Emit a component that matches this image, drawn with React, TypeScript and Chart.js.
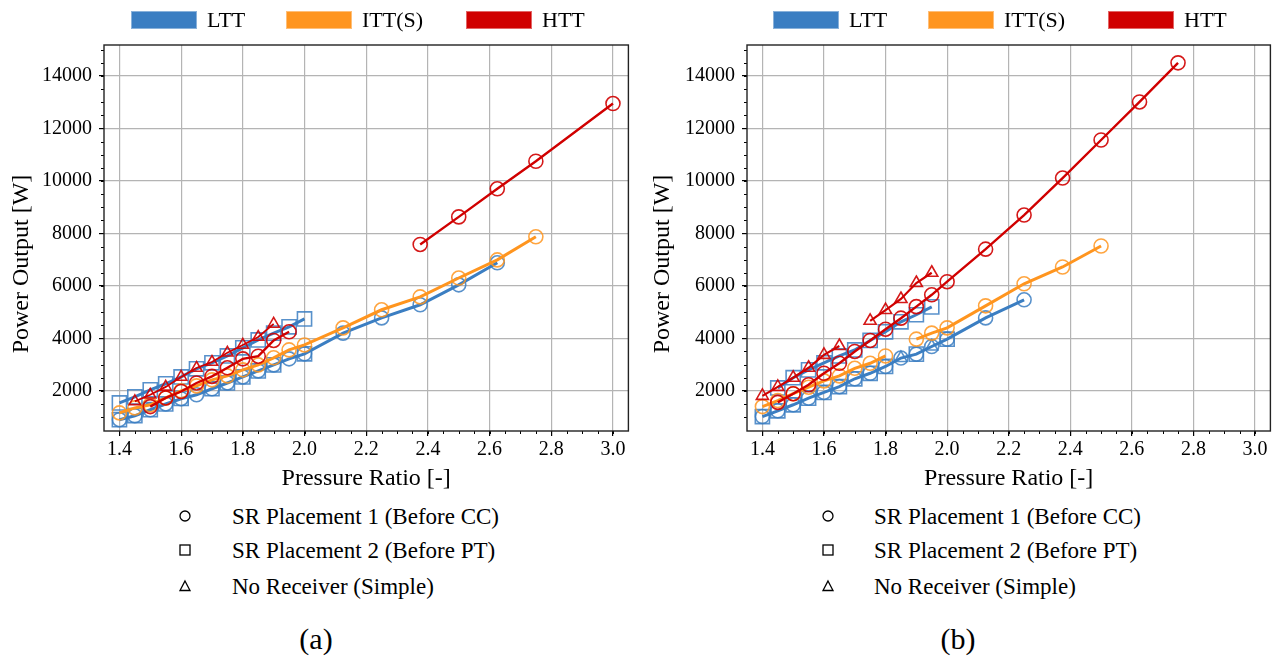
import React, { useEffect, useRef } from "react";
import { Chart, registerables } from "chart.js";

Chart.register(...registerables);

// ---------- data ----------
const X_TICKS = [1.4, 1.6, 1.8, 2.0, 2.2, 2.4, 2.6, 2.8, 3.0];
const Y_TICKS = [2000, 4000, 6000, 8000, 10000, 12000, 14000];
const X_TITLE = "Pressure Ratio [-]";
const Y_TITLE = "Power Output [W]";
const SERIES_NAMES = ["LTT", "ITT(S)", "HTT"];
const MARKER_NAMES = ["SR Placement 1 (Before CC)", "SR Placement 2 (Before PT)", "No Receiver (Simple)"];
const CAPTIONS = ["(a)", "(b)"];

// (a)
const A_HTT_CIRC_X = [1.5, 1.55, 1.6, 1.65, 1.7, 1.75, 1.8, 1.85, 1.9, 1.95, 2.2, 2.375, 2.5, 2.625, 2.75, 3.0];
const A_HTT_CIRC_Y = [1400, 1730, 1975, 2300, 2550, 2880, 3220, 3320, 3920, 4250, null, 7580, 8630, 9700, 10750, 12950];
const A_HTT_TRI_X = [1.45, 1.5, 1.55, 1.6, 1.65, 1.7, 1.75, 1.8, 1.85, 1.9];
const A_HTT_TRI_Y = [1600, 1850, 2150, 2530, 2870, 3100, 3450, 3750, 4050, 4550];
const A_ITT_CIRC_X = [1.4, 1.45, 1.5, 1.55, 1.6, 1.65, 1.7, 1.75, 1.8, 1.85, 1.9, 1.95, 2.0, 2.125, 2.25, 2.375, 2.5, 2.625, 2.75];
const A_ITT_CIRC_Y = [1160, 1350, 1470, 1730, 2000, 2190, 2420, 2570, 2800, 2990, 3260, 3560, 3750, 4400, 5090, 5580, 6300, 6990, 7870];
const A_LTT_SQ_X = [1.4, 1.45, 1.5, 1.55, 1.6, 1.65, 1.7, 1.75, 1.8, 1.85, 1.9, 1.95, 2.0];
const A_LTT_SQ_Y = [1540, 1770, 2040, 2270, 2530, 2840, 3070, 3330, 3640, 3940, 4200, 4440, 4740];
const A_LTT_CIRC_X = [1.4, 1.45, 1.5, 1.55, 1.6, 1.65, 1.7, 1.75, 1.8, 1.85, 1.9, 1.95, 2.0, 2.125, 2.25, 2.375, 2.5, 2.625];
const A_LTT_CIRC_Y = [900, 1050, 1280, 1500, 1700, 1850, 2080, 2300, 2530, 2760, 2990, 3220, 3410, 4200, 4780, 5280, 6040, 6880];
const A_LTT_LOWSQ_X = [1.4, 1.45, 1.5, 1.55, 1.6, 1.7, 1.75, 1.8, 1.85, 1.9, 2.0];
const A_LTT_LOWSQ_Y = [900, 1060, 1280, 1500, 1710, 2080, 2300, 2530, 2760, 2990, 3410];

// (b)
const B_HTT_CIRC_X = [1.45, 1.5, 1.55, 1.6, 1.65, 1.7, 1.75, 1.8, 1.85, 1.9, 1.95, 2.0, 2.125, 2.25, 2.375, 2.5, 2.625, 2.75];
const B_HTT_CIRC_Y = [1560, 1890, 2230, 2670, 3050, 3500, 3920, 4350, 4770, 5210, 5660, 6160, 7400, 8700, 10110, 11560, 13010, 14500];
const B_HTT_TRI_X = [1.4, 1.45, 1.5, 1.55, 1.6, 1.65, 1.7, 1.75, 1.8, 1.85, 1.9, 1.95];
const B_HTT_TRI_Y = [1810, 2150, 2500, 2880, 3370, 3710, null, 4670, 5080, 5500, 6110, 6500];
const B_ITT_CIRC_X = [1.4, 1.45, 1.5, 1.55, 1.6, 1.65, 1.7, 1.75, 1.8, 1.85, 1.9, 1.95, 2.0, 2.125, 2.25, 2.375, 2.5];
const B_ITT_CIRC_Y = [1400, 1630, 1890, 2140, 2380, 2570, 2860, 3050, 3330, null, 3970, 4200, 4400, 5240, 6080, 6720, 7520];
const B_LTT_SQ_X = [1.45, 1.5, 1.55, 1.6, 1.65, 1.7, 1.75, 1.8, 1.85, 1.9, 1.95];
const B_LTT_SQ_Y = [2110, 2500, 2800, 3070, 3330, 3560, 3920, 4250, 4630, 4900, 5200];
const B_LTT_CIRC_X = [1.4, 1.45, 1.5, 1.55, 1.6, 1.65, 1.7, 1.75, 1.8, 1.85, 1.9, 1.95, 2.0, 2.125, 2.25];
const B_LTT_CIRC_Y = [1020, 1240, 1470, 1720, 1940, 2160, 2460, 2670, 2930, 3250, 3400, 3690, 3970, 4780, 5470];
const B_LTT_LOWSQ_X = [1.4, 1.45, 1.5, 1.55, 1.6, 1.65, 1.7, 1.75, 1.8, 1.9, 2.0];
const B_LTT_LOWSQ_Y = [1020, 1240, 1470, 1720, 1940, 2160, 2460, 2670, 2930, 3400, 3970];
const B_LTT_TRI_X = [1.85, 1.95];
const B_LTT_TRI_Y = [3250, 3690];

// ---------- styles ----------
const BLUE = "#3b7ec2";
const BLUE_M = "rgba(59,126,194,0.85)";
const ORANGE = "#ff951f";
const ORANGE_M = "rgba(255,149,31,0.85)";
const RED = "#d00000";
const RED_M = "rgba(208,0,0,0.9)";
const COLORS = [BLUE, ORANGE, RED];
const FONT = '"Liberation Serif", "DejaVu Serif", Tinos, "Times New Roman", Times, serif';

const pts = (xs: number[], ys: (number | null)[]) => xs.map((x, i) => ({ x, y: ys[i] }));

function ds(xs: number[], ys: (number | null)[], color: string, mcolor: string, style: string, lw: number, radius: number, showLine = true) {
  return {
    data: pts(xs, ys),
    showLine,
    borderColor: color,
    borderWidth: lw,
    backgroundColor: "rgba(0,0,0,0)",
    pointStyle: style,
    pointRadius: radius,
    pointBorderColor: mcolor,
    pointBackgroundColor: "rgba(0,0,0,0)",
    pointBorderWidth: 1.6,
    pointHoverRadius: radius,
    spanGaps: false,
  };
}

function datasetsA() {
  return [
    ds(A_HTT_CIRC_X, A_HTT_CIRC_Y, RED, RED_M, "circle", 2.4, 7),
    ds(A_HTT_TRI_X, A_HTT_TRI_Y, RED, RED_M, "triangle", 1.8, 6.5),
    ds(A_ITT_CIRC_X, A_ITT_CIRC_Y, ORANGE, ORANGE_M, "circle", 3, 7),
    ds(A_LTT_SQ_X, A_LTT_SQ_Y, BLUE, BLUE_M, "rect", 3, 10),
    ds(A_LTT_LOWSQ_X, A_LTT_LOWSQ_Y, BLUE, BLUE_M, "rect", 3, 10, false),
    ds(A_LTT_CIRC_X, A_LTT_CIRC_Y, BLUE, BLUE_M, "circle", 3, 7),
  ];
}

function datasetsB() {
  return [
    ds(B_HTT_CIRC_X, B_HTT_CIRC_Y, RED, RED_M, "circle", 2.4, 7),
    ds(B_HTT_TRI_X, B_HTT_TRI_Y, RED, RED_M, "triangle", 2.2, 7),
    ds(B_ITT_CIRC_X, B_ITT_CIRC_Y, ORANGE, ORANGE_M, "circle", 3, 7),
    ds(B_LTT_SQ_X, B_LTT_SQ_Y, BLUE, BLUE_M, "rect", 3, 10),
    ds(B_LTT_LOWSQ_X, B_LTT_LOWSQ_Y, BLUE, BLUE_M, "rect", 3, 10, false),
    ds(B_LTT_TRI_X, B_LTT_TRI_Y, BLUE, BLUE_M, "triangle", 3, 7, false),
    ds(B_LTT_CIRC_X, B_LTT_CIRC_Y, BLUE, BLUE_M, "circle", 3, 7),
  ];
}

const framePlugin = {
  id: "frame",
  afterDraw(chart: any) {
    const { ctx, chartArea: a, scales } = chart;
    const xs = scales.x;
    const ys = scales.y;
    ctx.save();
    ctx.strokeStyle = "#000";
    ctx.lineWidth = 1;
    ctx.beginPath();
    for (let i = 27; i <= 61; i++) {
      const v = i * 0.05;
      const p = Math.round(xs.getPixelForValue(v)) + 0.5;
      if (p <= a.left + 1 || p >= a.right - 1) continue;
      ctx.moveTo(p, a.bottom);
      ctx.lineTo(p, a.bottom + 3);
    }
    for (let i = 1; i <= 30; i++) {
      const v = i * 500;
      const p = Math.round(ys.getPixelForValue(v)) + 0.5;
      if (p <= a.top + 1 || p >= a.bottom - 1) continue;
      ctx.moveTo(a.left, p);
      ctx.lineTo(a.left - 3, p);
    }
    ctx.stroke();
    ctx.lineWidth = 1.4;
    ctx.strokeStyle = "#222";
    ctx.strokeRect(a.left, a.top, a.right - a.left, a.bottom - a.top);
    ctx.restore();
  },
};

function makeConfig(datasets: any[], yWidth: number, padRight: number) {
  return {
    type: "scatter",
    data: { datasets },
    plugins: [framePlugin],
    options: {
      responsive: false,
      maintainAspectRatio: false,
      animation: false,
      devicePixelRatio: 1,
      events: [],
      layout: { padding: { top: 45, right: padRight, left: 0, bottom: 0 } },
      plugins: { legend: { display: false }, tooltip: { enabled: false } },
      scales: {
        x: {
          type: "linear",
          min: 1.35,
          max: 3.05,
          afterBuildTicks: (s: any) => {
            s.ticks = X_TICKS.map((v) => ({ value: v }));
          },
          afterFit: (s: any) => {
            s.height = 69;
          },
          ticks: {
            color: "#000",
            font: { family: FONT, size: 20 },
            padding: 2,
            maxRotation: 0,
            autoSkip: false,
            callback: (v: any) => Number(v).toFixed(1),
          },
          grid: { color: "#b4b4b4", lineWidth: 1.2, tickColor: "#000", tickLength: 5 },
          border: { display: false },
          title: {
            display: true,
            text: X_TITLE,
            color: "#000",
            font: { family: FONT, size: 24 },
            padding: { top: 0, bottom: 7 },
          },
        },
        y: {
          type: "linear",
          min: 470,
          max: 15180,
          afterBuildTicks: (s: any) => {
            s.ticks = Y_TICKS.map((v) => ({ value: v }));
          },
          afterFit: (s: any) => {
            s.width = yWidth;
          },
          ticks: {
            color: "#000",
            font: { family: FONT, size: 20 },
            padding: 7,
            autoSkip: false,
            callback: (v: any) => String(v),
          },
          grid: { color: "#b4b4b4", lineWidth: 1.2, tickColor: "#000", tickLength: 5 },
          border: { display: false },
          title: { display: false },
        },
      },
    },
  };
}

function ChartCanvas({ config, left, width, height }: { config: any; left: number; width: number; height: number }) {
  const ref = useRef<HTMLCanvasElement | null>(null);
  useEffect(() => {
    if (!ref.current) return;
    const chart = new Chart(ref.current, config);
    return () => chart.destroy();
  }, []);
  return (
    <canvas
      ref={ref}
      width={width}
      height={height}
      style={{ position: "absolute", left, top: 0, width, height }}
    />
  );
}

function YTitle({ cx, cy }: { cx: number; cy: number }) {
  const w = 260;
  const h = 26;
  return (
    <div
      style={{
        position: "absolute",
        left: cx - w / 2,
        top: cy - h / 2,
        width: w,
        height: h,
        lineHeight: h + "px",
        textAlign: "center",
        transform: "rotate(-90deg)",
        transformOrigin: "50% 50%",
        fontFamily: FONT,
        fontSize: 24,
        color: "#000",
        whiteSpace: "nowrap",
      }}
    >
      {Y_TITLE}
    </div>
  );
}

function TopLegend({ offset }: { offset: number }) {
  const boxes = [131, 286, 466];
  return (
    <>
      {SERIES_NAMES.map((name, i) => (
        <React.Fragment key={name}>
          <div
            style={{
              position: "absolute",
              left: offset + boxes[i],
              top: 11,
              width: 66,
              height: 18,
              background: COLORS[i],
              boxSizing: "border-box",
              border: "1px solid rgba(255,255,255,0.4)",
            }}
          />
          <div
            style={{
              position: "absolute",
              left: offset + boxes[i] + 76,
              top: 8.5,
              fontFamily: FONT,
              fontSize: 22,
              lineHeight: "22px",
              color: "#000",
              whiteSpace: "nowrap",
            }}
          >
            {name}
          </div>
        </React.Fragment>
      ))}
    </>
  );
}

function MarkerIcon({ kind }: { kind: number }) {
  return (
    <svg width={14} height={14} style={{ display: "block" }}>
      {kind === 0 && <circle cx={7} cy={7} r={5} fill="none" stroke="#000" strokeWidth={1.3} />}
      {kind === 1 && <rect x={2} y={2} width={10} height={10} fill="none" stroke="#000" strokeWidth={1.3} />}
      {kind === 2 && <polygon points="7,2 12,11.5 2,11.5" fill="none" stroke="#000" strokeWidth={1.3} />}
    </svg>
  );
}

function BottomLegend({ markerX, textX }: { markerX: number; textX: number }) {
  const rows = [516, 550, 586];
  return (
    <>
      {MARKER_NAMES.map((name, i) => (
        <React.Fragment key={name}>
          <div style={{ position: "absolute", left: markerX - 7, top: rows[i] - 7 }}>
            <MarkerIcon kind={i} />
          </div>
          <div
            style={{
              position: "absolute",
              left: textX,
              top: rows[i] - 11.5,
              fontFamily: FONT,
              fontSize: 23,
              lineHeight: "23px",
              color: "#000",
              whiteSpace: "nowrap",
            }}
          >
            {name}
          </div>
        </React.Fragment>
      ))}
    </>
  );
}

export default function App() {
  const cfgA = makeConfig(datasetsA(), 104, 11);
  const cfgB = makeConfig(datasetsB(), 107, 9);
  return (
    <div style={{ position: "absolute", left: 0, top: 0, width: 1282, height: 663, background: "#fff", overflow: "hidden" }}>
      <ChartCanvas config={cfgA} left={0} width={640} height={500} />
      <ChartCanvas config={cfgB} left={640} width={642} height={500} />
      <YTitle cx={20} cy={264} />
      <YTitle cx={661} cy={264} />
      <TopLegend offset={0} />
      <TopLegend offset={642} />
      <BottomLegend markerX={185} textX={232} />
      <BottomLegend markerX={828} textX={874} />
      {CAPTIONS.map((c, i) => (
        <div
          key={c}
          style={{
            position: "absolute",
            left: i === 0 ? 316 - 40 : 958 - 40,
            width: 80,
            textAlign: "center",
            top: 639 - 15,
            fontFamily: FONT,
            fontSize: 30,
            lineHeight: "30px",
            color: "#000",
          }}
        >
          {c}
        </div>
      ))}
    </div>
  );
}
